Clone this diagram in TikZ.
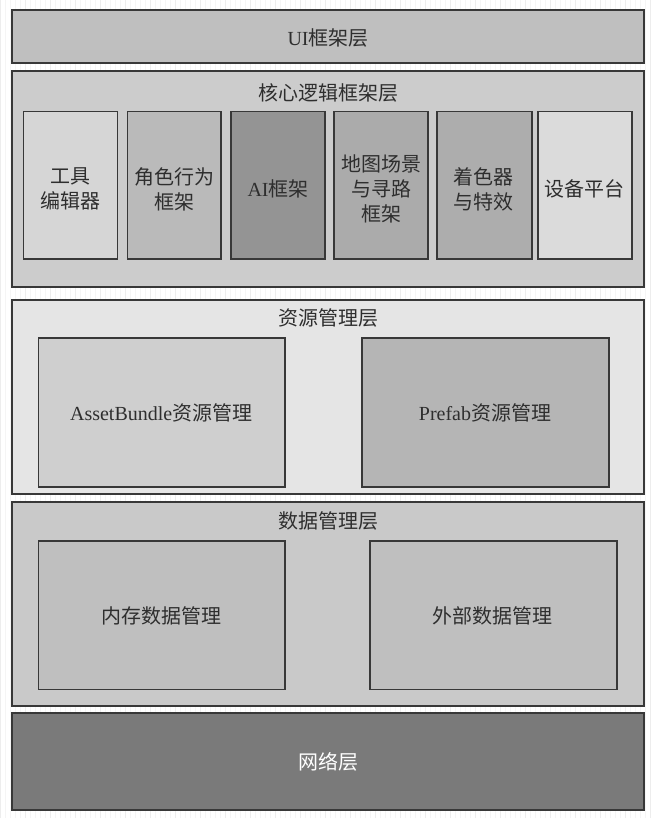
\documentclass[tikz,border=0pt]{standalone}
\usepackage{fontspec}
\setmainfont{Liberation Serif}
\newfontfamily\cjk{Noto Sans CJK SC}
\begin{document}
\begin{tikzpicture}[x=1pt,y=-1pt,
  layer/.style={draw=black!78,line width=1.5pt,fill=#1},
  inner/.style={draw=black!78,line width=1.3pt,fill=#1},
  lbl/.style={font=\fontsize{20}{25}\selectfont,text=black!82,align=center,inner sep=0pt}]
% canvas with a faint grid
\fill[white] (0,0) rectangle (651,818);
\draw[black!4,line width=0.4pt,step=5] (0,0) grid (651,818);
\draw[black!7,line width=0.5pt,step=25] (0,0) grid (651,818);
\useasboundingbox (0,0) rectangle (651,818);

% UI layer
\draw[layer=black!25] (12,10) rectangle (644,63);
\node[lbl] (ui) at (328,38) {UI{\cjk 框架层}};

% core logic layer
\draw[layer=black!20] (12,71) rectangle (644,287);
\node[lbl] (core) at (328,93) {\cjk 核心逻辑框架层};
\draw[inner=black!16] (23,111) rectangle (117,259);
\node[lbl] (tool) at (70,189) {\cjk 工具\\\cjk 编辑器};
\draw[inner=black!27] (127,111) rectangle (221,259);
\node[lbl] (role) at (174,189) {\cjk 角色行为\\\cjk 框架};
\draw[inner=black!42] (231,111) rectangle (325,259);
\node[lbl] (ai) at (278,189) {AI{\cjk 框架}};
\draw[inner=black!33] (334,111) rectangle (428,259);
\node[lbl] (map) at (381,189) {\cjk 地图场景\\\cjk 与寻路\\\cjk 框架};
\draw[inner=black!32] (437,111) rectangle (532,259);
\node[lbl] (shader) at (484,189) {\cjk 着色器\\\cjk 与特效};
\draw[inner=black!14] (538,111) rectangle (632,259);
\node[lbl] (device) at (585,189) {\cjk 设备平台};

% resource layer
\draw[layer=black!10] (12,300) rectangle (644,494);
\node[lbl] (res) at (328,318) {\cjk 资源管理层};
\draw[inner=black!19] (38,338) rectangle (285,487);
\node[lbl] (ab) at (161,413) {AssetBundle{\cjk 资源管理}};
\draw[inner=black!29] (362,338) rectangle (609,487);
\node[lbl] (prefab) at (485,413) {Prefab{\cjk 资源管理}};

% data layer
\draw[layer=black!21] (12,502) rectangle (644,706);
\node[lbl] (data) at (328,521) {\cjk 数据管理层};
\draw[inner=black!25] (38,541) rectangle (285,690);
\node[lbl] (mem) at (161,616) {\cjk 内存数据管理};
\draw[inner=black!25] (370,541) rectangle (617,690);
\node[lbl] (ext) at (493,616) {\cjk 外部数据管理};

% network layer
\draw[layer=black!52] (12,713) rectangle (644,810);
\node[lbl,text=white] (net) at (328,762) {\cjk 网络层};
\end{tikzpicture}
\end{document}
